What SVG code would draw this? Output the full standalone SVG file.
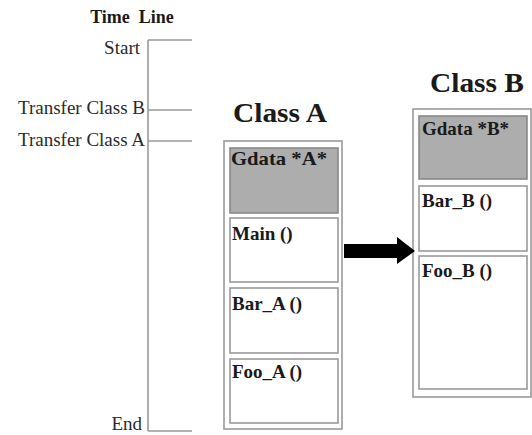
<svg xmlns="http://www.w3.org/2000/svg" width="532" height="435" viewBox="0 0 532 435">
  <style>
    text { font-family: "Liberation Serif", "Times New Roman", serif; fill: #1a1a1a; }
    .lbl { font-size: 19px; fill: #2a2a2a; }
    .ttl { font-size: 18px; font-weight: bold; }
    .cls { font-size: 27px; font-weight: bold; }
    .cell-txt { font-size: 19px; font-weight: bold; }
    .axis { stroke: #999; stroke-width: 1.6; fill: none; }
    .table { fill: #fff; stroke: #999; stroke-width: 1.6; }
    .cell { fill: #fff; stroke: #999; stroke-width: 1.6; }
    .cell.data { fill: #adadad; stroke: #888; }
  </style>

  <!-- time line axis -->
  <g id="timeline">
    <text class="ttl" x="132" y="23" text-anchor="middle" xml:space="preserve">Time  Line</text>
    <path class="axis" d="M148 40 V431 M148 40 H192 M148 110 H192 M148 141 H192 M148 431 H192"/>
    <text class="lbl" x="140" y="54" text-anchor="end">Start</text>
    <text class="lbl" x="145" y="114" text-anchor="end">Transfer Class B</text>
    <text class="lbl" x="145" y="146" text-anchor="end">Transfer Class A</text>
    <text class="lbl" x="142" y="430" text-anchor="end">End</text>
  </g>

  <!-- Class A -->
  <g id="class-a">
    <text class="cls" x="233" y="122" textLength="94" lengthAdjust="spacingAndGlyphs">Class A</text>
    <rect class="table" x="224" y="141" width="118" height="288"/>
    <rect class="cell data" x="230" y="148" width="108" height="65"/>
    <text class="cell-txt" x="231" y="165" textLength="96" lengthAdjust="spacingAndGlyphs">Gdata *A*</text>
    <rect class="cell" x="230" y="218" width="108" height="64"/>
    <text class="cell-txt" x="232" y="240">Main ()</text>
    <rect class="cell" x="230" y="288" width="108" height="65"/>
    <text class="cell-txt" x="232" y="310">Bar_A ()</text>
    <rect class="cell" x="230" y="359" width="108" height="64"/>
    <text class="cell-txt" x="232" y="378">Foo_A ()</text>
  </g>

  <!-- Class B -->
  <g id="class-b">
    <text class="cls" x="430" y="92" textLength="94" lengthAdjust="spacingAndGlyphs">Class B</text>
    <rect class="table" x="413" y="109" width="118" height="288"/>
    <rect class="cell data" x="419" y="116" width="108" height="63"/>
    <text class="cell-txt" x="422" y="135">Gdata *B*</text>
    <rect class="cell" x="419" y="186" width="108" height="65"/>
    <text class="cell-txt" x="422" y="207">Bar_B ()</text>
    <rect class="cell" x="419" y="256" width="108" height="133"/>
    <text class="cell-txt" x="422" y="277">Foo_B ()</text>
  </g>

  <!-- transfer arrow -->
  <g id="connectors">
    <path d="M344 244 H397 V237 L415 251 L397 264 V258 H344 Z" fill="#000"/>
  </g>
</svg>
